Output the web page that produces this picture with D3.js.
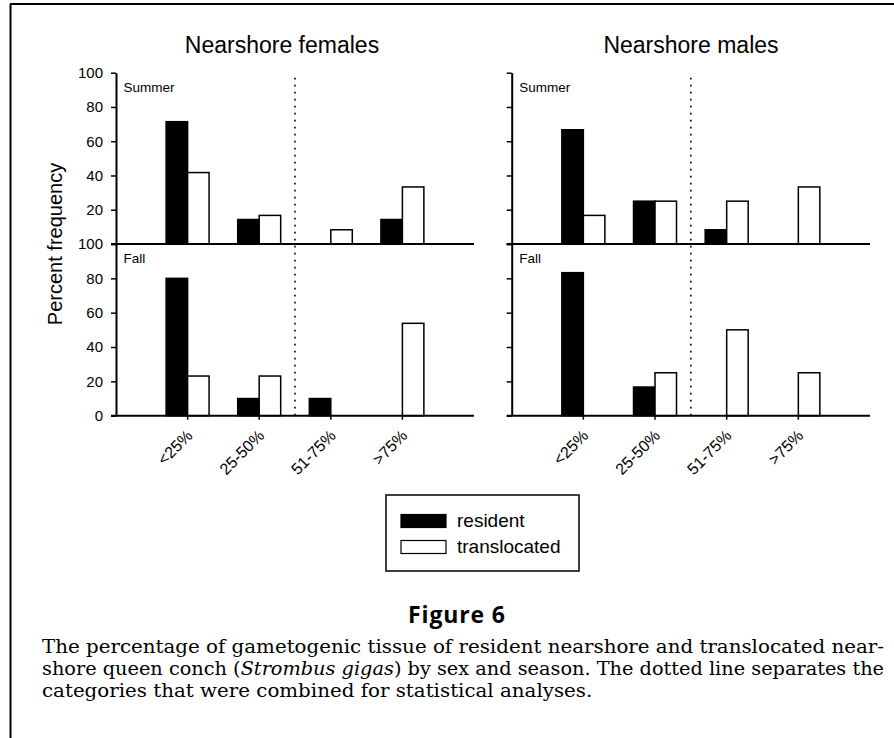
<!DOCTYPE html>
<html>
<head>
<meta charset="utf-8">
<script src="https://cdn.jsdelivr.net/npm/d3@7"></script>
<style>
    body { margin: 0; background: #fff; }
    svg { display: block; }
    .chart text { font-family: "Liberation Sans", Arial, sans-serif; fill: #000; }
    .axis path, .axis line { stroke: #000; }
</style>
</head>
<body>
<svg id="chart" class="chart" width="894" height="738"></svg>
<script>
// Kategorien (Anteil gametogenes Gewebe)
const categories = ['<25%', '25-50%', '51-75%', '>75%'];

// Weibchen
const femSummerResident = [71.4, 14.3, 0, 14.3];
const femSummerTrans = [41.7, 16.7, 8.3, 33.3];
const femFallResident = [80, 10, 10, 0];
const femFallTrans = [23.1, 23.1, 0, 53.8];

// Maennchen
const maleSummerResident = [66.7, 25, 8.3, 0];
const maleSummerTrans = [16.7, 25, 25, 33.3];
const maleFallResident = [83.3, 16.7, 0, 0];
const maleFallTrans = [0, 25, 50, 25];

const yTicks = [0, 20, 40, 60, 80, 100];
const seriesNames = ['resident', 'translocated'];

const svg = d3.select('#chart');

// Rahmen (oben + links)
svg.append('line').attr('x1', 10).attr('x2', 894).attr('y1', 4).attr('y2', 4)
    .style('stroke', '#000').style('stroke-width', 2);
svg.append('line').attr('x1', 10.5).attr('x2', 10.5).attr('y1', 4).attr('y2', 738)
    .style('stroke', '#000').style('stroke-width', 2);

const summerY = d3.scaleLinear().domain([0, 100]).range([244, 72.7]);
const fallY = d3.scaleLinear().domain([0, 100]).range([415.7, 244]);

const panels = [
    { title: 'Nearshore females', x0: 116, x1: 474, titleX: 282, labels: true,
      summer: [femSummerResident, femSummerTrans], fall: [femFallResident, femFallTrans] },
    { title: 'Nearshore males', x0: 511.7, x1: 870, titleX: 691, labels: false,
      summer: [maleSummerResident, maleSummerTrans], fall: [maleFallResident, maleFallTrans] }
];

panels.forEach(p => drawPanel(p));

function drawPanel(p) {
    const slot = (p.x1 - p.x0) / 5;
    const x = d3.scaleBand()
        .domain(categories)
        .range([p.x0 + slot / 2, p.x1 - slot / 2]);
    const center = c => x(c) + x.bandwidth() / 2;
    const barW = x.bandwidth() * 0.3;

    // Titel
    svg.append('text')
        .attr('x', p.titleX)
        .attr('y', 53)
        .attr('text-anchor', 'middle')
        .style('font-size', '23px')
        .text(p.title);

    // Balken
    [[summerY, p.summer, 'Summer'], [fallY, p.fall, 'Fall']].forEach(([y, vals, season]) => {
        vals.forEach((arr, si) => {
            const data = categories.map((c, i) => ({ cat: c, v: arr[i] })).filter(d => d.v > 0);
            svg.append('g').selectAll('rect')
                .data(data)
                .enter()
                .append('rect')
                .attr('x', d => si === 0 ? center(d.cat) - barW : center(d.cat))
                .attr('y', d => y(d.v))
                .attr('width', barW)
                .attr('height', d => y(0) - y(d.v))
                .style('fill', si === 0 ? '#000' : '#fff')
                .style('stroke', '#000')
                .style('stroke-width', 1.5);
        });

        // Saison-Label
        svg.append('text')
            .attr('x', p.x0 + 7.5)
            .attr('y', y(100) + 19)
            .style('font-size', '13.5px')
            .text(season);

        // Y-Achse
        const ax = svg.append('g')
            .attr('class', 'axis')
            .attr('transform', `translate(${p.x0},0)`)
            .call(d3.axisLeft(y).tickValues(yTicks).tickSize(5).tickSizeOuter(0)
                .tickFormat(d => (!p.labels || (season === 'Summer' && d === 0)) ? '' : d));
        ax.select('.domain').style('stroke-width', 2);
        ax.selectAll('.tick line').style('stroke-width', 1.5);
        ax.selectAll('.tick text')
            .attr('x', -13)
            .style('font-size', '15px')
            .style('font-family', '"Liberation Sans", Arial, sans-serif');

        // X-Grundlinie
        svg.append('line')
            .attr('x1', p.x0 - 5).attr('x2', p.x1)
            .attr('y1', y(0)).attr('y2', y(0))
            .style('stroke', '#000').style('stroke-width', 2);
    });

    // X-Ticks + Labels (unten)
    const gx = svg.append('g');
    gx.selectAll('line')
        .data(categories)
        .enter()
        .append('line')
        .attr('x1', d => center(d)).attr('x2', d => center(d))
        .attr('y1', fallY(0)).attr('y2', fallY(0) + 4)
        .style('stroke', '#000').style('stroke-width', 1.5);
    gx.selectAll('text')
        .data(categories)
        .enter()
        .append('text')
        .attr('transform', d => `translate(${center(d) + 6},${fallY(0) + 21}) rotate(-45)`)
        .attr('text-anchor', 'end')
        .style('font-size', '16px')
        .text(d => d);

    // Punktierte Trennlinie zwischen 25-50% und 51-75%
    const sepX = (center(categories[1]) + center(categories[2])) / 2;
    svg.append('line')
        .attr('x1', sepX).attr('x2', sepX)
        .attr('y1', summerY(97)).attr('y2', fallY(0))
        .style('stroke', '#000')
        .style('stroke-width', 1.6)
        .style('stroke-dasharray', '1.6,5.4');
}

// Y-Achsen-Beschriftung
svg.append('text')
    .attr('transform', 'translate(62,244) rotate(-90)')
    .attr('text-anchor', 'middle')
    .style('font-size', '20px')
    .text('Percent frequency');

// Legende
const legend = svg.append('g').attr('transform', 'translate(386,495)');
legend.append('rect')
    .attr('width', 193).attr('height', 76)
    .style('fill', '#fff').style('stroke', '#000').style('stroke-width', 1.5);
seriesNames.forEach((name, i) => {
    legend.append('rect')
        .attr('x', 15).attr('y', 19.5 + i * 26)
        .attr('width', 45).attr('height', 13)
        .style('fill', i === 0 ? '#000' : '#fff')
        .style('stroke', '#000').style('stroke-width', 1.2);
    legend.append('text')
        .attr('x', 71).attr('y', 32 + i * 26)
        .style('font-size', '19px')
        .text(name);
});

// Bildunterschrift
const figLabel = svg.append('text')
    .attr('x', 408)
    .attr('y', 623)
    .style('font-family', '"Open Sans", "Noto Sans", sans-serif')
    .style('font-weight', '700')
    .style('font-size', '23px')
    .text('Figure 6');
figLabel.attr('textLength', 97).attr('lengthAdjust', 'spacing');

const captionLines = [
    [['The percentage of gametogenic tissue of resident nearshore and translocated near-', false]],
    [['shore queen conch (', false], ['Strombus gigas', true], [') by sex and season. The dotted line separates the', false]],
    [['categories that were combined for statistical analyses.', false]]
];
const capLeft = 42, capRight = 884;
let squeeze = 1;
captionLines.forEach((parts, i) => {
    const t = svg.append('text')
        .attr('x', capLeft)
        .attr('y', 653 + i * 22)
        .style('font-family', '"DejaVu Serif", serif')
        .style('font-size', '18.5px');
    parts.forEach(([s, it]) => {
        t.append('tspan').style('font-style', it ? 'italic' : 'normal').text(s);
    });
    const natural = t.node().getComputedTextLength();
    if (i === 0) squeeze = (capRight - capLeft) / natural;
    const target = i < 2 ? capRight - capLeft : natural * squeeze;
    t.attr('textLength', target).attr('lengthAdjust', 'spacingAndGlyphs');
});
</script>
</body>
</html>
